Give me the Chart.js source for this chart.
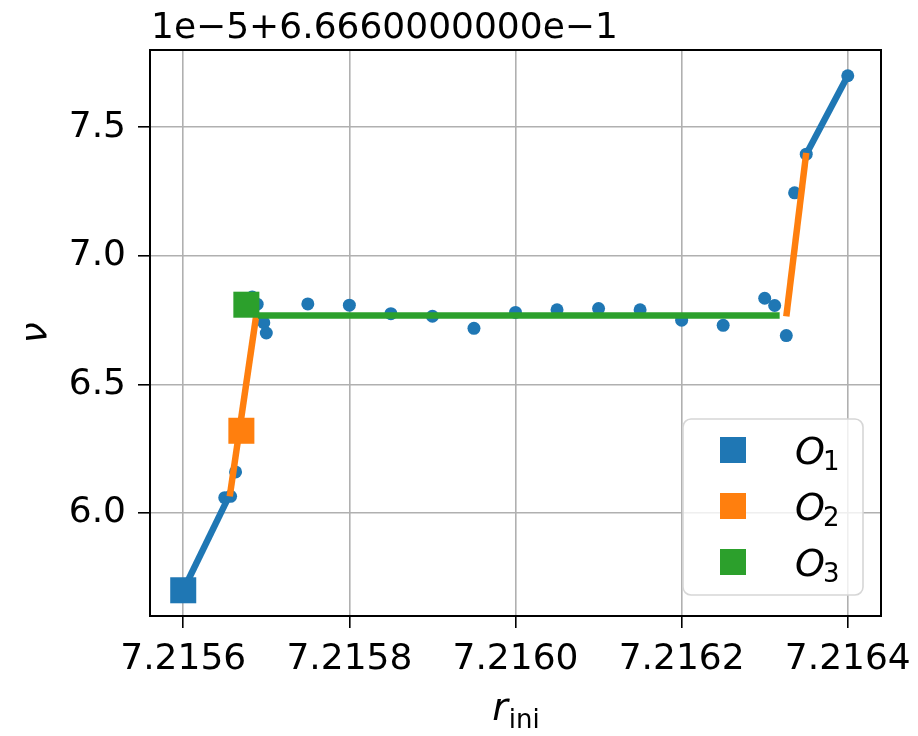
<html>
<head>
<meta charset="utf-8">
<script src="https://cdn.jsdelivr.net/npm/chart.js@4.4.1/dist/chart.umd.min.js"></script>
<style>
body {margin:0; background:#fff;}
#wrap {width:918px; height:736px;}
</style>
</head>
<body>
<div id="wrap"><canvas id="canvas" width="918" height="736"></canvas></div>
<script>
// scattered points (r_ini, nu)
var dotR  = [7.21560, 7.215650, 7.215657, 7.215663, 7.215683, 7.215689, 7.215697, 7.215700,
             7.215750, 7.215800, 7.215850, 7.215900, 7.215950, 7.216000, 7.216050, 7.216100,
             7.216150, 7.216200, 7.216250, 7.216300, 7.216312, 7.216326, 7.216336, 7.216350, 7.216400];
var dotNu = [5.700, 6.060, 6.065, 6.160, 6.840, 6.812, 6.740, 6.700,
             6.813, 6.808, 6.775, 6.765, 6.718, 6.780, 6.790, 6.795,
             6.790, 6.750, 6.730, 6.835, 6.807, 6.690, 7.245, 7.395, 7.700];

// fitted segments
var blueLineA_R = [7.21560, 7.215655], blueLineA_Nu = [5.700, 6.065];
var blueLineB_R = [7.216350, 7.216400], blueLineB_Nu = [7.395, 7.700];
var orangeLineA_R = [7.215656, 7.215688], orangeLineA_Nu = [6.065, 6.771];
var orangeLineB_R = [7.216326, 7.216350], orangeLineB_Nu = [6.765, 7.400];
var greenLine_R = [7.215690, 7.216318], greenLine_Nu = [6.768, 6.768];

// markers O1, O2, O3
var markR  = [7.215600, 7.215670, 7.215676];
var markNu = [5.700, 6.320, 6.810];
var markNames = ['1', '2', '3'];

var xTicks = [7.2156, 7.2158, 7.2160, 7.2162, 7.2164];
var yTicks = [6.0, 6.5, 7.0, 7.5];
var offsetText = '1e\u22125+6.6660000000e\u22121';

var C1 = '#1f77b4', C2 = '#ff7f0e', C3 = '#2ca02c';
var FONT = "'DejaVu Sans'";

function pts(xs, ys) {
  var out = [];
  for (var i = 0; i < xs.length; i++) out.push({x: xs[i], y: ys[i]});
  return out;
}
function lineSet(xs, ys, color, order) {
  return {data: pts(xs, ys), showLine: true, borderColor: color, borderWidth: 6.5,
          pointRadius: 0, borderCapStyle: 'butt', order: order};
}
function markSet(i, color, order) {
  return {data: [{x: markR[i], y: markNu[i]}], pointStyle: 'rect', pointRadius: 18.4,
          backgroundColor: color, borderWidth: 0, order: order};
}

var extras = {
  id: 'extras',
  afterDraw: function(chart) {
    var ctx = chart.ctx, a = chart.chartArea;
    ctx.save();
    // frame
    ctx.strokeStyle = '#000';
    ctx.lineWidth = 2;
    ctx.strokeRect(a.left, a.top, a.right - a.left, a.bottom - a.top);
    // offset text
    ctx.fillStyle = '#000';
    ctx.font = '36px ' + FONT;
    ctx.textAlign = 'left';
    ctx.textBaseline = 'alphabetic';
    ctx.fillText(offsetText, a.left + 1, 38);
    // y title
    ctx.save();
    ctx.translate(46, (a.top + a.bottom) / 2);
    ctx.rotate(-Math.PI / 2);
    ctx.textAlign = 'center';
    ctx.font = 'italic 38px ' + FONT;
    ctx.fillText('\u03bd', 0, 0);
    ctx.restore();
    // x title r_ini
    var cx = (a.left + a.right) / 2;
    ctx.font = 'italic 38px ' + FONT;
    var w1 = ctx.measureText('r').width;
    ctx.font = '26px ' + FONT;
    var w2 = ctx.measureText('ini').width;
    var x0 = cx - (w1 + w2) / 2;
    ctx.font = 'italic 38px ' + FONT;
    ctx.fillText('r', x0, 720);
    ctx.font = '26px ' + FONT;
    ctx.fillText('ini', x0 + w1 + 1, 728);
    // legend
    var lx = 683, ly = 419, lw = 180, lh = 176;
    ctx.beginPath();
    ctx.roundRect(lx, ly, lw, lh, 8);
    ctx.fillStyle = 'rgba(255,255,255,0.8)';
    ctx.fill();
    ctx.strokeStyle = '#d6d6d6';
    ctx.lineWidth = 1.6;
    ctx.stroke();
    var cols = [C1, C2, C3];
    for (var i = 0; i < 3; i++) {
      var cy = 450 + i * 56;
      ctx.fillStyle = cols[i];
      ctx.fillRect(733 - 13, cy - 13, 26, 26);
      ctx.fillStyle = '#000';
      ctx.font = 'italic 38px ' + FONT;
      ctx.fillText('O', 795, cy + 14);
      var wo = ctx.measureText('O').width;
      ctx.font = '26px ' + FONT;
      ctx.fillText(markNames[i], 795 + wo - 2, cy + 20);
    }
    ctx.restore();
  }
};

var ctx = document.getElementById('canvas').getContext('2d');
var chart = new Chart(ctx, {
  type: 'scatter',
  data: {
    datasets: [
      markSet(2, C3, 0),
      lineSet(greenLine_R, greenLine_Nu, C3, 1),
      markSet(1, C2, 2),
      lineSet(orangeLineA_R, orangeLineA_Nu, C2, 3),
      lineSet(orangeLineB_R, orangeLineB_Nu, C2, 3),
      markSet(0, C1, 4),
      lineSet(blueLineA_R, blueLineA_Nu, C1, 5),
      lineSet(blueLineB_R, blueLineB_Nu, C1, 5),
      {data: pts(dotR, dotNu), pointRadius: 6.5, backgroundColor: C1, borderWidth: 0, order: 6}
    ]
  },
  options: {
    responsive: false,
    animation: false,
    devicePixelRatio: 1,
    layout: {padding: {top: 50, right: 37, left: 0, bottom: 0}},
    plugins: {legend: {display: false}, tooltip: {enabled: false}, title: {display: false}},
    scales: {
      x: {
        type: 'linear', min: 7.21556, max: 7.21644,
        afterBuildTicks: function(s) { s.ticks = xTicks.map(function(v){ return {value: v}; }); },
        afterFit: function(s) { s.height = 120; s.paddingLeft = 0; s.paddingRight = 0; },
        ticks: {color: '#000', font: {family: FONT, size: 36}, padding: 10, maxRotation: 0,
                callback: function(v) { return v.toFixed(4); }},
        grid: {color: '#b0b0b0', lineWidth: 1.6, tickLength: 12, tickColor: '#000', tickWidth: 1.6},
        border: {color: '#000', width: 2}
      },
      y: {
        type: 'linear', min: 5.6, max: 7.8,
        afterBuildTicks: function(s) { s.ticks = yTicks.map(function(v){ return {value: v}; }); },
        afterFit: function(s) { s.width = 150; s.paddingTop = 0; s.paddingBottom = 0; },
        ticks: {color: '#000', font: {family: FONT, size: 36}, padding: 12,
                callback: function(v) { return v.toFixed(1); }},
        grid: {color: '#b0b0b0', lineWidth: 1.6, tickLength: 12, tickColor: '#000', tickWidth: 1.6},
        border: {color: '#000', width: 2}
      }
    }
  },
  plugins: [extras]
});
</script>
</body>
</html>
